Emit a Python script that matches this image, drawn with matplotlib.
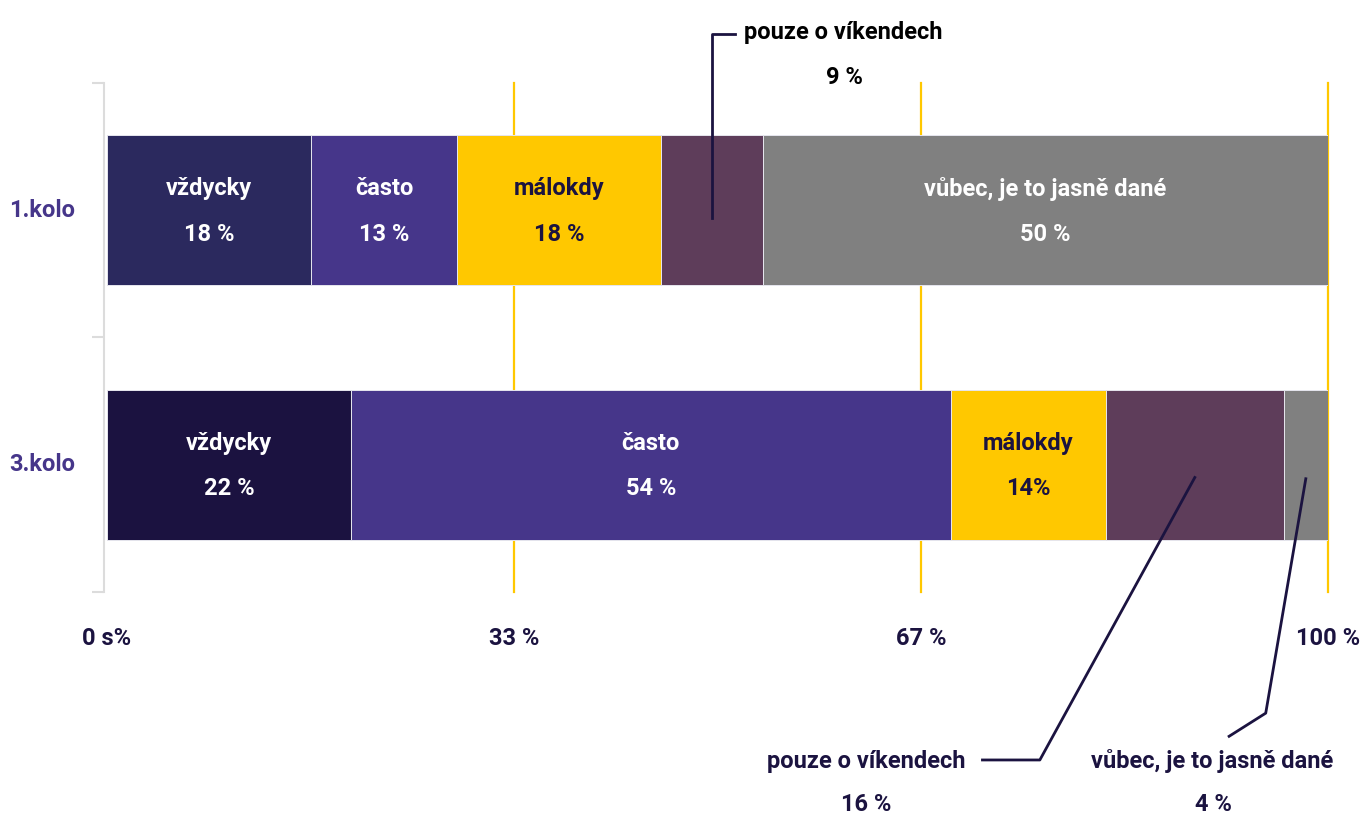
import numpy as np
import matplotlib
matplotlib.use("Agg")
import matplotlib.pyplot as plt

plt.rcParams['font.family'] = ['Roboto', 'DejaVu Sans']
plt.rcParams['font.weight'] = 'bold'

# data
rounds = ["1.kolo", "3.kolo"]
answers = ["vždycky", "často", "málokdy", "pouze o víkendech", "vůbec, je to jasně dané"]
kolo1 = [18, 13, 18, 9, 50]
kolo3 = [22, 54, 14, 16, 4]
kolo1_txt = ["18 %", "13 %", "18 %", "9 %", "50 %"]
kolo3_txt = ["22 %", "54 %", "14%", "16 %", "4 %"]
xticks = [0, 100 / 3, 200 / 3, 100]
xtick_labels = ["0 s%", "33 %", "67 %", "100 %"]

navy = "#1B1340"
colors1 = ["#2B295E", "#46368A", "#FFC800", "#5E3D5A", "#808080"]
colors3 = ["#1B1240", "#46368A", "#FFC800", "#5E3D5A", "#808080"]
fs = 17

fig = plt.figure(figsize=(13.66, 8.21), dpi=100)
ax = fig.add_axes([107 / 1366, 1 - 592 / 821, 1221 / 1366, 509 / 821])

for x in xticks[1:]:
    ax.axvline(x, color="#FFC800", lw=1.6, zorder=0, clip_on=False)

rows = [(kolo1, kolo1_txt, colors1), (kolo3, kolo3_txt, colors3)]
centers = []
for i, (vals, txts, cols) in enumerate(rows):
    vals = np.array(vals, dtype=float)
    share = vals / vals.sum() * 100
    left = np.concatenate([[0], np.cumsum(share)[:-1]])
    ax.barh(i, share, left=left, height=0.59, color=cols,
            edgecolor="#e6e6ee", linewidth=0.7, zorder=2)
    centers.append(left + share / 2)
    for j in range(len(vals)):
        # small segments get an outside label instead
        if j == 3 or (i == 1 and j == 4):
            continue
        tc = navy if j == 2 else "white"
        ax.text(left[j] + share[j] / 2, i + 0.005, answers[j] + "\n" + txts[j],
                ha="center", va="center", color=tc, fontsize=fs,
                linespacing=2.25, zorder=3)

# outside labels with leader lines
c1, c3 = centers
ax.plot([c1[3], c1[3], c1[3] + 1.9], [0.03, -0.694, -0.694],
        color=navy, lw=2, clip_on=False, zorder=4)
ax.text(60.3, -0.70, answers[3], ha="center", va="center", color="black",
        fontsize=fs)
ax.text(60.4, -0.52, kolo1_txt[3], ha="center", va="center", color="black",
        fontsize=fs)

ax.plot([c3[3], 76.4, 71.7], [1.05, 2.16, 2.16],
        color=navy, lw=2, clip_on=False, zorder=4)
ax.text(62.2, 2.165, answers[3], ha="center", va="center", color=navy,
        fontsize=fs, clip_on=False)
ax.text(62.2, 2.335, kolo3_txt[3], ha="center", va="center", color=navy,
        fontsize=fs, clip_on=False)

ax.plot([c3[4], 94.9, 91.9], [1.055, 1.976, 2.067],
        color=navy, lw=2, clip_on=False, zorder=4)
ax.text(90.5, 2.165, answers[4], ha="center", va="center", color=navy,
        fontsize=fs, clip_on=False)
ax.text(90.6, 2.335, kolo3_txt[4], ha="center", va="center", color=navy,
        fontsize=fs, clip_on=False)

for i, r in enumerate(rounds):
    ax.text(-5.3, i, r, ha="center", va="center", color="#46368A",
            fontsize=fs)

ax.set_xlim(0, 100)
ax.set_ylim(1.5, -0.5)
ax.set_xticks(xticks)
ax.set_xticklabels(xtick_labels, color=navy, fontsize=fs)
ax.tick_params(axis="x", length=0, pad=25)
ax.set_yticks([-0.5, 0.5, 1.5])
ax.set_yticklabels([])
ax.tick_params(axis="y", length=9, width=1.5, color="#dcdcdc")

for s in ["top", "right", "bottom"]:
    ax.spines[s].set_visible(False)
ax.spines["left"].set_color("#dcdcdc")
ax.spines["left"].set_linewidth(1.5)
ax.spines["left"].set_position(("outward", 2))

fig.savefig("out.png", dpi=100, facecolor="white")
